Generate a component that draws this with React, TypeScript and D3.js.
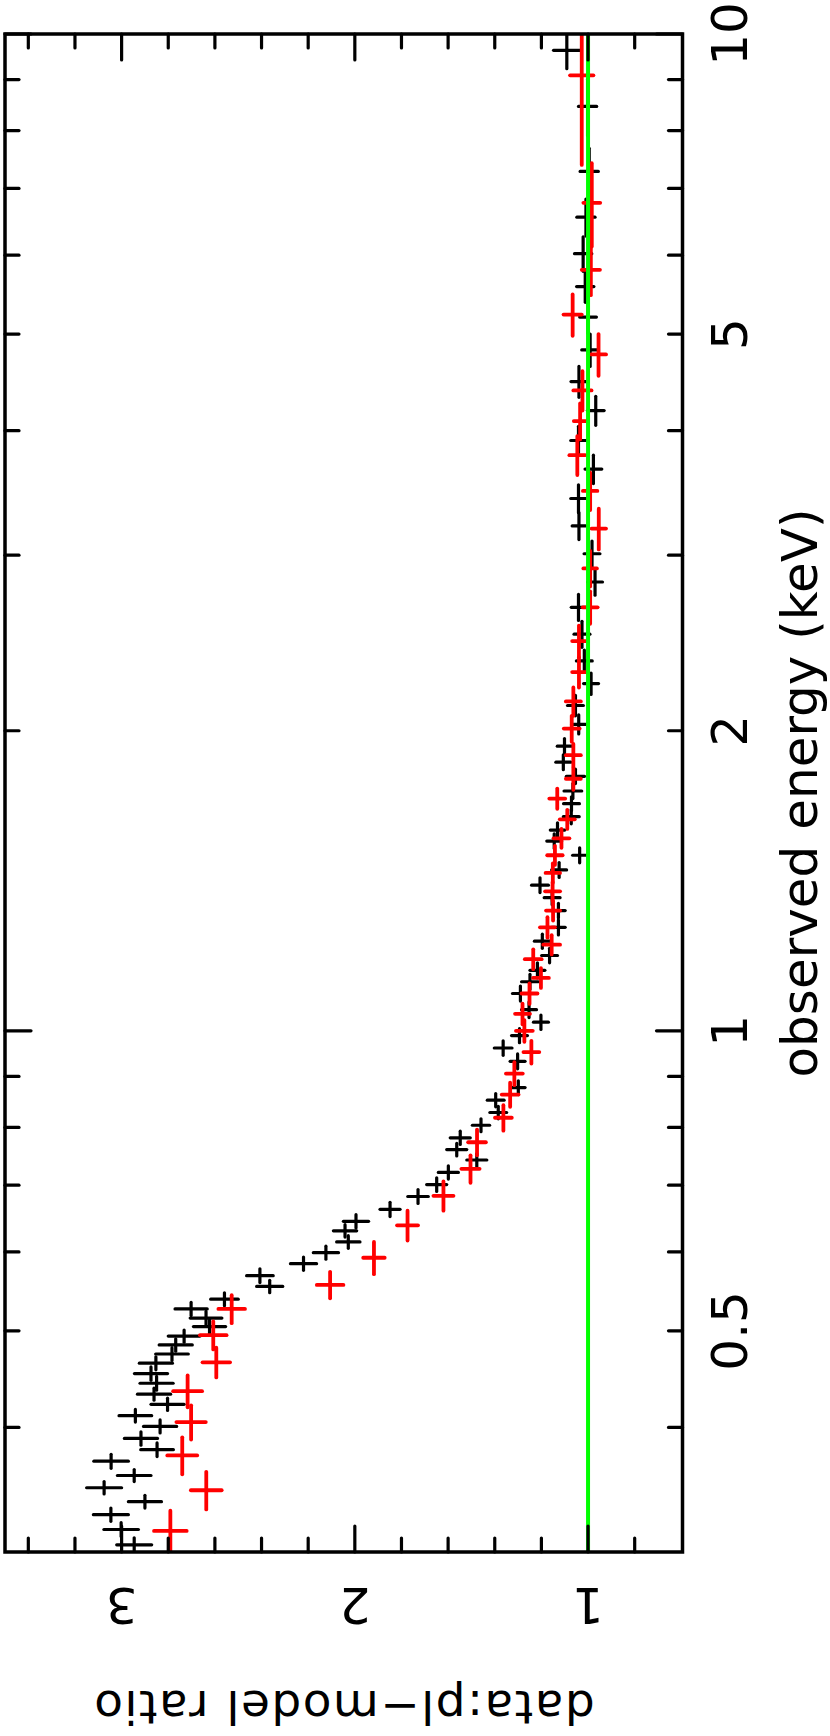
import React from "react";
import * as d3 from "d3";

// values (energy in keV, ratio data/model)
const blackEnergy = [
  0.305, 0.316, 0.327, 0.337, 0.348, 0.358, 0.37, 0.38, 0.39, 0.401, 0.411, 0.422, 0.432, 0.443, 0.453, 0.464,
  0.474, 0.484, 0.494, 0.505, 0.515, 0.526, 0.538, 0.554, 0.568, 0.584, 0.599,
  0.614, 0.63, 0.644, 0.662, 0.682, 0.701, 0.721, 0.742, 0.76, 0.781, 0.804, 0.828, 0.852, 0.877, 0.932, 0.961,
  0.989, 1.02, 1.05, 1.09, 1.12, 1.15, 1.19, 1.23,
  1.27, 1.32, 1.36, 1.4, 1.45, 1.5, 1.55, 1.59, 1.64, 1.69, 1.74, 1.8, 1.86, 1.93, 2.03, 2.12, 2.23, 2.35, 2.5,
  2.66, 2.82, 3.01, 3.21,
  3.42, 3.66, 3.91, 4.19, 4.48, 4.82, 5.2, 5.58, 6.02, 6.55, 7.28, 8.46, 9.63,
];
const blackEnergyErr = [
  0.005, 0.005, 0.005, 0.005, 0.005, 0.005, 0.006, 0.006, 0.006, 0.006, 0.006, 0.006, 0.006, 0.007, 0.007, 0.007,
  0.007, 0.007, 0.007, 0.008, 0.008, 0.008, 0.008, 0.008, 0.009, 0.009, 0.009,
  0.009, 0.009, 0.01, 0.011, 0.011, 0.011, 0.011, 0.011, 0.011, 0.012, 0.012, 0.012, 0.013, 0.014, 0.016, 0.016,
  0.016, 0.017, 0.019, 0.019, 0.019, 0.02, 0.02, 0.02,
  0.022, 0.022, 0.022, 0.024, 0.025, 0.026, 0.026, 0.027, 0.027, 0.027, 0.03, 0.03, 0.032, 0.034, 0.045, 0.05,
  0.055, 0.06, 0.075, 0.08, 0.085, 0.09, 0.1,
  0.11, 0.12, 0.13, 0.14, 0.16, 0.18, 0.19, 0.2, 0.24, 0.28, 0.4, 0.55, 0.4,
];
const blackRatio = [
  2.946, 3.002, 3.046, 2.9, 3.075, 2.946, 3.045, 2.848, 2.917, 2.835, 2.941, 2.803, 2.861, 2.85, 2.874, 2.853,
  2.784, 2.768, 2.732, 2.623, 2.638, 2.702, 2.559, 2.365, 2.407, 2.22, 2.124,
  2.028, 2.042, 1.995, 1.849, 1.729, 1.649, 1.599, 1.477, 1.563, 1.548, 1.459, 1.385, 1.396, 1.299, 1.302, 1.364,
  1.294, 1.202, 1.253, 1.29, 1.249, 1.217, 1.165, 1.196,
  1.127, 1.127, 1.154, 1.206, 1.124, 1.036, 1.145, 1.131, 1.072, 1.071, 1.065, 1.054, 1.106, 1.101, 1.04, 1.054,
  0.987, 1.016, 1.026, 1.041, 0.97, 0.983, 1.039,
  1.041, 0.977, 1.041, 0.967, 1.039, 0.991, 1.0, 1.012, 1.021, 1.009, 0.995, 1.002, 1.091,
];
const blackRatioErr = [
  0.075, 0.074, 0.075, 0.071, 0.075, 0.072, 0.074, 0.07, 0.071, 0.071, 0.07, 0.071, 0.071, 0.071, 0.071, 0.071,
  0.07, 0.071, 0.068, 0.069, 0.068, 0.069, 0.059, 0.056, 0.057, 0.056, 0.054,
  0.05, 0.05, 0.054, 0.043, 0.044, 0.043, 0.043, 0.043, 0.043, 0.043, 0.037, 0.036, 0.036, 0.029, 0.032, 0.038,
  0.034, 0.032, 0.032, 0.034, 0.036, 0.032, 0.034, 0.034,
  0.029, 0.029, 0.034, 0.036, 0.032, 0.03, 0.032, 0.031, 0.034, 0.034, 0.038, 0.039, 0.032, 0.031, 0.03, 0.034,
  0.032, 0.034, 0.034, 0.031, 0.032, 0.034, 0.029,
  0.033, 0.036, 0.033, 0.036, 0.034, 0.036, 0.036, 0.037, 0.037, 0.039, 0.039, 0.039, 0.057,
];

const redEnergy = [
  0.315, 0.346, 0.375, 0.405, 0.435, 0.465, 0.495, 0.526, 0.556, 0.592,
  0.638, 0.683, 0.727, 0.773, 0.818, 0.863, 0.906, 0.952, 1.0, 1.04, 1.09, 1.13, 1.18, 1.22,
  1.27, 1.32, 1.38, 1.44, 1.5, 1.56, 1.63, 1.71, 1.79, 1.89, 2.01, 2.14, 2.29, 2.46, 2.66, 2.91, 3.19,
  3.48, 3.78, 4.09, 4.39, 4.77, 5.23, 5.8, 6.77, 9.09,
];
const redEnergyErr = [
  0.015, 0.015, 0.016, 0.016, 0.016, 0.016, 0.016, 0.017, 0.017, 0.022,
  0.022, 0.023, 0.023, 0.023, 0.024, 0.024, 0.024, 0.025, 0.025, 0.025, 0.026, 0.026, 0.027, 0.027,
  0.03, 0.03, 0.03, 0.032, 0.033, 0.034, 0.036, 0.04, 0.045, 0.05, 0.06, 0.07, 0.08, 0.09, 0.1, 0.12, 0.15,
  0.15, 0.17, 0.17, 0.2, 0.23, 0.25, 0.33, 0.65, 1.7,
];
const redRatio = [
  2.791, 2.637, 2.74, 2.702, 2.717, 2.594, 2.607, 2.528, 2.106, 1.918,
  1.774, 1.62, 1.504, 1.476, 1.363, 1.334, 1.316, 1.243, 1.273, 1.281, 1.251, 1.202, 1.235, 1.156,
  1.174, 1.15, 1.152, 1.151, 1.142, 1.114, 1.089, 1.132, 1.063, 1.063, 1.07, 1.063, 1.039, 1.039, 0.991, 0.991, 0.954,
  0.991, 1.046, 1.034, 1.024, 0.955, 1.066, 0.988, 0.984, 1.027,
];
const redRatioErr = [
  0.07, 0.066, 0.064, 0.063, 0.062, 0.059, 0.057, 0.057, 0.057, 0.046,
  0.045, 0.043, 0.039, 0.038, 0.036, 0.036, 0.036, 0.034, 0.036, 0.032, 0.034, 0.034, 0.036, 0.036,
  0.032, 0.03, 0.032, 0.031, 0.033, 0.034, 0.032, 0.034, 0.032, 0.032, 0.034, 0.032, 0.029, 0.029, 0.032, 0.029, 0.031,
  0.031, 0.034, 0.027, 0.039, 0.032, 0.039, 0.039, 0.036, 0.05,
];

const modelRatio = 1;

const energyMajorTicks = [1, 10];
const energyMinorTicks = [0.4, 0.5, 0.6, 0.7, 0.8, 0.9, 2, 3, 4, 5, 6, 7, 8, 9];
const energyLabelValues = [0.5, 1, 2, 5, 10];
const energyLabels = ["0.5", "1", "2", "5", "10"];
const ratioMajorTicks = [1, 2, 3];
const ratioMinorTicks = [0.8, 1.2, 1.4, 1.6, 1.8, 2.2, 2.4, 2.6, 2.8, 3.2, 3.4];
const ratioLabels = ["1", "2", "3"];

// the plot is drawn landscape and turned a quarter turn onto the portrait page
const PAGE_W = 830;
const PAGE_H = 1736;

const Crosses = ({ energy, energyErr, ratio, ratioErr, color, width, x, y }) => (
  <g stroke={color} strokeWidth={width} strokeLinecap="round">
    {energy.map((e, i) => (
      <g key={i}>
        <line x1={x(e - energyErr[i])} x2={x(e + energyErr[i])} y1={y(ratio[i])} y2={y(ratio[i])} />
        <line x1={x(e)} x2={x(e)} y1={y(ratio[i] - ratioErr[i])} y2={y(ratio[i] + ratioErr[i])} />
      </g>
    ))}
  </g>
);

export default function App() {
  const x = d3.scaleLog().domain([0.3, 10]).range([184, 1702]);
  const y = d3.scaleLinear().domain([0.595, 3.5]).range([682.5, 5]);
  const [x0, x1] = x.range();
  const [yB, yT] = y.range();
  const major = 26;
  const minor = 14;

  return (
    <svg
      width={PAGE_W}
      height={PAGE_H}
      style={{ position: "absolute", left: 0, top: 0, background: "#fff" }}
      fontFamily="'DejaVu Sans', sans-serif"
    >
      <g transform={`translate(0,${PAGE_H}) rotate(-90)`}>
        <defs>
          <clipPath id="plot-area">
            <rect x={x0} y={yT} width={x1 - x0} height={yB - yT} />
          </clipPath>
        </defs>

        <g clipPath="url(#plot-area)">
          <Crosses
            energy={blackEnergy}
            energyErr={blackEnergyErr}
            ratio={blackRatio}
            ratioErr={blackRatioErr}
            color="#000"
            width={3.2}
            x={x}
            y={y}
          />
          <Crosses
            energy={redEnergy}
            energyErr={redEnergyErr}
            ratio={redRatio}
            ratioErr={redRatioErr}
            color="#ff0000"
            width={3.8}
            x={x}
            y={y}
          />
          <line x1={x0} x2={x1} y1={y(modelRatio)} y2={y(modelRatio)} stroke="#00ff00" strokeWidth={4} />
        </g>

        <g stroke="#000" strokeWidth={3.2} strokeLinecap="round">
          {energyMajorTicks.concat(energyMinorTicks).map((v) => {
            const len = energyMajorTicks.includes(v) ? major : minor;
            return (
              <g key={"e" + v}>
                <line x1={x(v)} x2={x(v)} y1={yB} y2={yB - len} />
                <line x1={x(v)} x2={x(v)} y1={yT} y2={yT + len} />
              </g>
            );
          })}
          {ratioMajorTicks.concat(ratioMinorTicks).map((v) => {
            const len = ratioMajorTicks.includes(v) ? major : minor;
            return (
              <g key={"r" + v}>
                <line x1={x0} x2={x0 + len} y1={y(v)} y2={y(v)} />
                <line x1={x1} x2={x1 - len} y1={y(v)} y2={y(v)} />
              </g>
            );
          })}
        </g>

        <rect x={x0} y={yT} width={x1 - x0} height={yB - yT} fill="none" stroke="#000" strokeWidth={3.5} />

        <g fontSize={50} fill="#000">
          {energyLabelValues.map((v, i) => (
            <text key={"el" + v} x={x(v)} y={yB + 64.5} textAnchor="middle">
              {energyLabels[i]}
            </text>
          ))}
          {ratioMajorTicks.map((v, i) => (
            <text key={"rl" + v} transform={`translate(${x0 - 36},${y(v)}) rotate(-90)`} textAnchor="middle">
              {ratioLabels[i]}
            </text>
          ))}
          <text x={(x0 + x1) / 2} y={yB + 134.5} textAnchor="middle">
            observed energy (keV)
          </text>
          <text
            transform={`translate(45,${(yB + yT) / 2}) rotate(-90)`}
            textAnchor="middle"
            fontSize={47}
            letterSpacing={1.5}
          >
            data:pl−model ratio
          </text>
        </g>
      </g>
    </svg>
  );
}
